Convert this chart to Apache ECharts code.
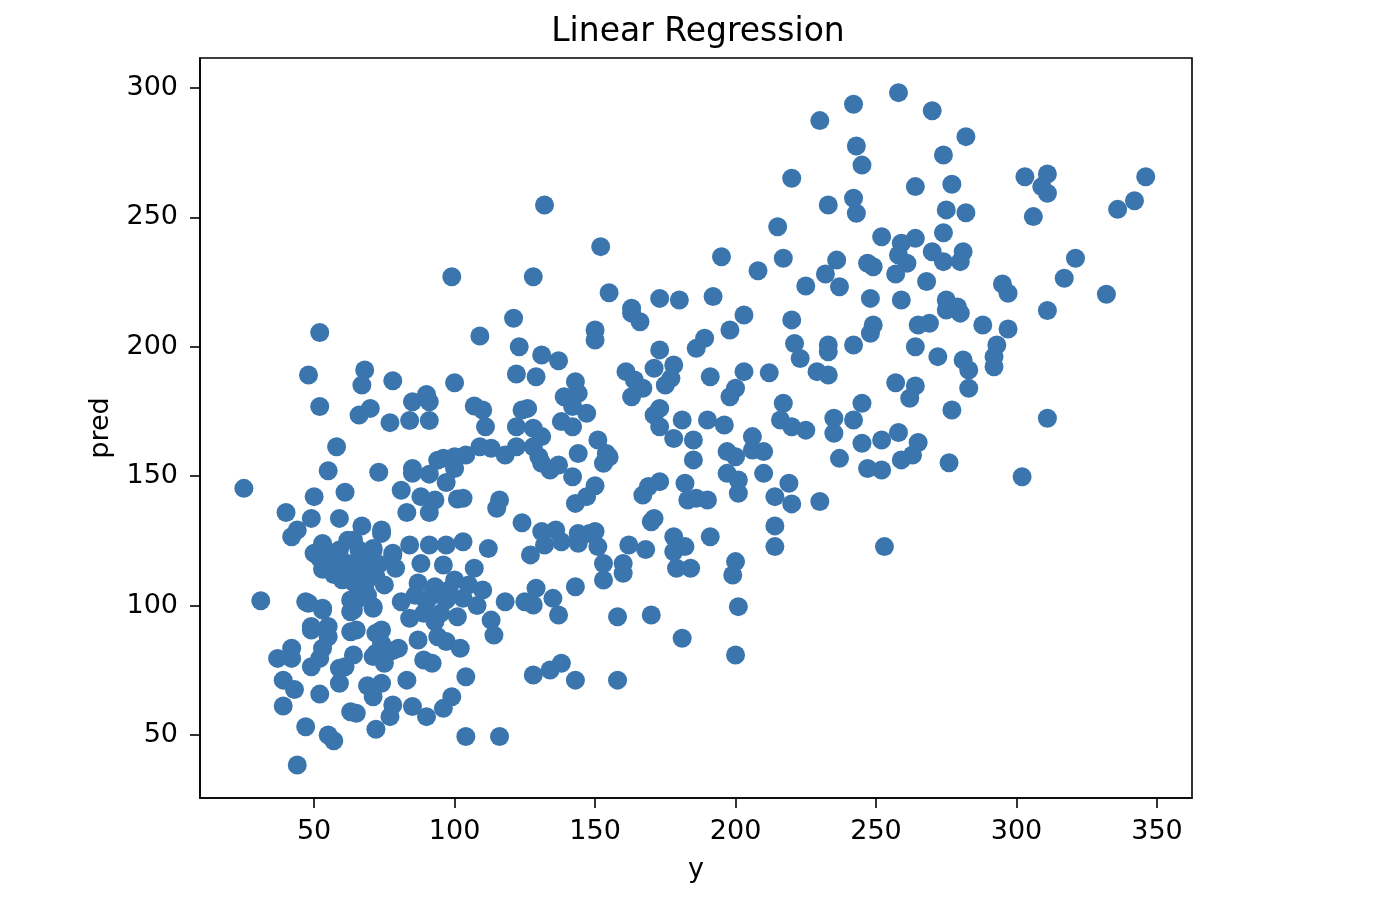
<!DOCTYPE html>
<html>
<head>
<meta charset="utf-8">
<script src="https://cdn.jsdelivr.net/npm/echarts@6/dist/echarts.min.js"></script>
<style>
html,body{margin:0;padding:0;background:#fff;}
#chart{width:1396px;height:916px;}
</style>
</head>
<body>
<div id="chart"></div>
<script>
// x: true target "y", y: model prediction "pred"
const actual = [
  52,48,68,67,78,52,70,66,85,90, 91,77,84,91,100,58,55,25,73,85, 94,100,91,97,85,81,88,93,83,91, 61,50,40,49,59,67,74,44,42,101,
  53,50,53,59,62,63,64,31,47,53, 49,55,55,53,63,63,63,64,42,37, 42,49,59,59,52,39,43,52,39,63, 47,55,57,44,
  74,84,91,97,103,112,71,78,79,88, 96,107,69,65,87,93,100,110,118,81, 90,97,103,65,71,84,93,101,113,114, 65,74,87,94,97,102,80,72,75,89, 92,104,83,74,71,78,85,90,99,96, 65,72,104,116,77,69,
  121,109,123,131,137,122,129,150,150,143, 139,144,142,147,138,142,107,110,111,124, 126,122,128,131,122,118,113,109,104,96, 100,128,130,134,137,131,142,144,151,154, 103,116,115,150,147,143,124,131,136,144, 150,
  132,152,99,128,195,155,173,180,192,163,
  132,138,144,148,151,127,153,153,160,160, 162,168,170,178,178,182,179,184,191,200, 199,201,200,125,129,128,135,137,143,158, 170,181,128,134,138,143,158,
  163,166,203,198,189,186,173,171,178,177, 175,161,164,167,163,191,203,200,198,173, 171,173,181,190,196,178,185,185,206,197, 200,206,197,201,201,155,153,169,167,173, 182,183,186,190,171,
  258,242,270,230,282,243,274,245,220,264, 277,233,242,243,275,282,215,252,259,264, 274,270,281,258,261,274,280,257,268,217, 208,236,247,249,232,237,225,248,259,275, 279,
  220,221,223,233,233,242,249,248,265,269, 275,280,288,264,272,281,283,283,212,229, 233,257,264,262,277,217,216,220,225,235, 235,242,245,245,252,258,265,263,259,247, 252,237,276,210,210,219,214,220,230,214, 214,253,
  303,311,309,311,306,346,342,336,321,317, 295,297,332,311,297,293,292,292,311,302,
  53,52,62,66,61,66,71,70,72,68, 78,48,53,64,71,49,72,74,71,78, 61,
  57,60,67,64,57,73,75,69,86,92, 98,95,89,105,108
];
const predicted = [
  205.5,189.1,191,185.2,186.9,176.9,176.2,173.6,178.8,181.6, 178.8,170.7,171.5,171.5,186.1,161.4,152.1,145.3,151.5,153, 156.2,157.5,150.8,147.6,151.1,144.6,142.1,140.8,136,136, 143.8,142.1,136,133.7,133.7,130.8,129.2,129.2,126.6,141.2,
  124,120.2,114,121.5,116.3,112.5,125.3,101.9,101.5,99, 90.6,91.9,88,83.5,102.2,97.6,89.9,80.9,83.5,79.6, 79.6,76.4,75.8,70,79.6,71.2,67.6,65.8,61.2,59, 53.2,50,47.8,38.4,
  127.9,123.4,123.4,123.4,124.7,122.1,121.5,119.6,114.4,116.3, 115.7,114.4,111.2,113.8,108.7,107.3,109.9,106,101.5,101.5, 101.5,102.2,102.8,102.2,99,95.1,93.8,95.7,94.4,88.6, 90.6,90.6,86.7,88,86.1,83.5,83.5,81.6,77.7,79, 77.7,72.5,71.2,70,64.8,61.6,61,57.1,64.8,60.3, 58.4,52.2,49.4,49.4,57.1,69,
  211,204.2,200,196.8,194.6,189.5,188.4,206.5,202.6,186.5, 180.7,182,176.9,174.3,171.1,169.1,177.1,175.6,169.1,175.6, 176.2,169.1,168.5,165.3,161.4,158.2,160.8,161.4,158.2,156.9, 153,161.4,157.5,152.4,154.3,155,149.8,158.8,164,158.8, 141.5,140.8,137.6,146.3,142.1,139.5,132,128.6,129.2,127.9, 128.6,
  254.8,238.7,227.1,227.1,234.8,220.9,218.7,218.1,219.4,214.9,
  123.4,124.7,124.1,127.9,122.8,119.6,116.3,109.9,116.3,112.5, 123.4,121.7,132.4,126.6,120.8,122.8,114.4,114.4,126.6,117, 111.8,99.6,80.9,101.5,106.7,100.2,102.8,96.4,107.3,95.7, 96.4,87.4,73.2,75.1,77.7,71.2,71.2,
  213,209.7,212.3,206.5,203.3,199.4,198.8,191.7,193,187.8, 185.2,190.4,187.2,184,180.7,188.4,190.4,184,180.7,176.2, 173.6,169.1,171.7,171.7,169.8,164.6,164,156.3,165.3,159.5, 157.5,160.1,151.1,148.5,143.4,157.4,155,146,142.7,147.9, 147.3,140.8,141.5,140.8,133.7,
  298.2,293.7,291.2,287.4,281.2,277.6,274.1,270.2,265.1,261.9, 262.8,254.8,257.4,251.6,252.9,251.8,246.4,242.5,240,241.9, 244.1,236.7,236.7,235.5,232.3,232.9,232.9,228.1,225.2,234.2, 229.4,233.5,232.3,230.9,228.1,223.2,223.5,218.7,218.1,218.1, 215.4,
  210.4,201.3,195.5,200.7,198.1,200.7,208.4,205.2,208.4,209.1, 214.2,213,208.4,200,196.2,194.9,191,184,190,190.4, 189.1,186.1,184.9,180.1,175.6,178.2,171.7,169.1,167.8,172.4, 166.6,171.7,178.2,162.7,164,166.9,163,158.2,156.3,153, 152.4,156.9,155.2,159.5,151.1,147.3,142.1,139.3,140.2,130.8, 122.8,122.8,
  265.7,266.8,261.9,259.3,250.3,265.7,256.4,253.1,234.2,226.5, 224.3,220.7,220.3,214,206.9,200.7,196.2,192.3,172.4,149.8,
  122.8,118.3,125.3,121.5,115.7,113.8,122.1,115.1,111.2,107.3, 120.2,100.9,98.3,98.3,99.6,91.9,89.3,85.4,80.3,82.6, 76.4,
  118,110,118,109,112,116,108,104,104,104, 106,97,97,108,100
];
const xTicks = [50, 100, 150, 200, 250, 300, 350];
const yTicks = [50, 100, 150, 200, 250, 300];
const xRange = [9.38, 362.47];
const yRange = [25.66, 311.59];

if (actual.length !== predicted.length) console.error('length mismatch', actual.length, predicted.length);
const points = actual.map((v, i) => [v, predicted[i]]);

const FONT = 'DejaVu Sans';
const chart = echarts.init(document.getElementById('chart'), null, { renderer: 'canvas' });
chart.setOption({
  animation: false,
  backgroundColor: '#ffffff',
  textStyle: { fontFamily: FONT },
  title: {
    text: 'Linear Regression',
    left: 'center',
    top: 16,
    padding: 0,
    textStyle: { fontFamily: FONT, fontSize: 33, fontWeight: 'normal', color: '#000' }
  },
  grid: {
    left: 200, top: 58, right: 204, bottom: 118,
    show: true, borderColor: '#000', borderWidth: 1.6, backgroundColor: 'transparent'
  },
  xAxis: {
    type: 'value',
    min: xRange[0], max: xRange[1],
    name: 'y', nameLocation: 'middle', nameGap: 58,
    nameTextStyle: { fontFamily: FONT, fontSize: 27, color: '#000' },
    axisLine: { show: true, onZero: false, lineStyle: { color: '#000', width: 1.6 } },
    axisTick: { show: true, length: 10, customValues: xTicks, lineStyle: { color: '#000', width: 1.6 } },
    axisLabel: { customValues: xTicks, fontFamily: FONT, fontSize: 27, color: '#000', margin: 20 },
    splitLine: { show: false }
  },
  yAxis: {
    type: 'value',
    min: yRange[0], max: yRange[1],
    name: 'pred', nameLocation: 'middle', nameGap: 86, nameRotate: 90,
    nameTextStyle: { fontFamily: FONT, fontSize: 27, color: '#000' },
    axisLine: { show: true, onZero: false, lineStyle: { color: '#000', width: 1.6 } },
    axisTick: { show: true, length: 10, customValues: yTicks, lineStyle: { color: '#000', width: 1.6 } },
    axisLabel: { customValues: yTicks, fontFamily: FONT, fontSize: 27, color: '#000', margin: 22 },
    splitLine: { show: false }
  },
  series: [{
    type: 'scatter',
    data: points,
    symbol: 'circle',
    symbolSize: 19,
    itemStyle: { color: '#3a75ae', opacity: 1 },
    emphasis: { disabled: true }
  }]
});
</script>
</body>
</html>
